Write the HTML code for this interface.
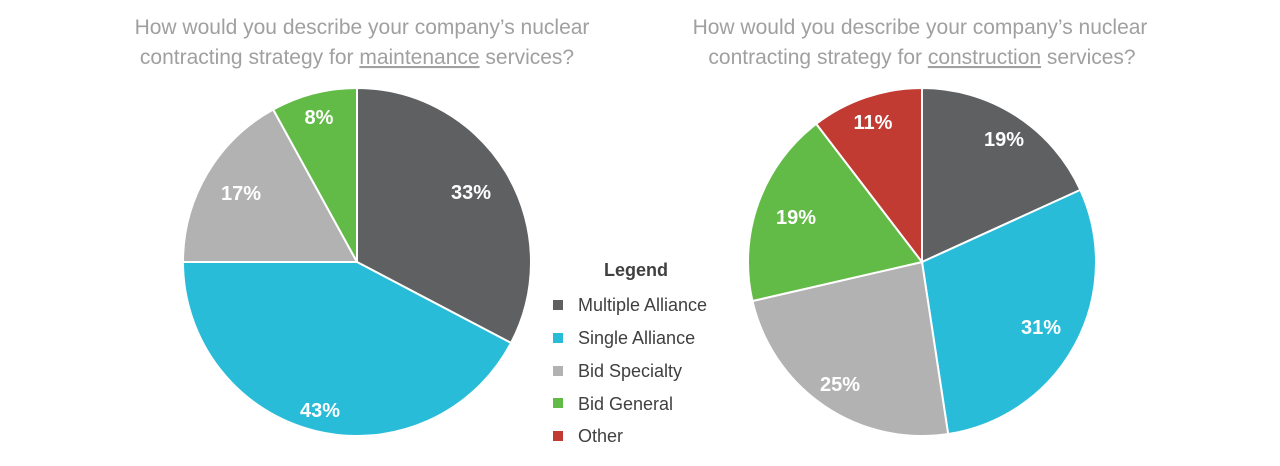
<!DOCTYPE html>
<html><head><meta charset="utf-8"><style>
body{margin:0;background:#fff;width:1280px;height:461px;overflow:hidden;font-family:"Liberation Sans",Arial,sans-serif}
</style></head><body>
<svg id="s" width="1280" height="461" xmlns="http://www.w3.org/2000/svg" font-family="Liberation Sans, Arial, sans-serif">
<g fill="#a0a0a0" font-size="21" text-anchor="middle">
<text x="362" y="34">How would you describe your company’s nuclear</text>
<text x="357" y="64">contracting strategy for <tspan text-decoration="underline">maintenance</tspan> services?</text>
<text x="920" y="34">How would you describe your company’s nuclear</text>
<text x="922" y="64">contracting strategy for <tspan text-decoration="underline">construction</tspan> services?</text>
</g>
<g id="p1"></g><g id="p2"></g>
<g fill="#fff" font-weight="bold" font-size="20" text-anchor="middle">
<text x="471" y="199">33%</text><text x="320" y="417">43%</text><text x="241" y="200">17%</text><text x="319" y="124">8%</text>
<text x="1004" y="146">19%</text><text x="1041" y="334">31%</text><text x="840" y="391">25%</text><text x="796" y="224">19%</text><text x="873" y="129">11%</text>
</g>
<text x="604" y="276" font-size="18" font-weight="bold" fill="#404040">Legend</text>
<g font-size="18" fill="#404040">
<rect x="553" y="300" width="10" height="10" fill="#5f6062"/><text x="578" y="311">Multiple Alliance</text>
<rect x="553" y="333" width="10" height="10" fill="#29bcd8"/><text x="578" y="344">Single Alliance</text>
<rect x="553" y="366" width="10" height="10" fill="#b2b2b2"/><text x="578" y="377">Bid Specialty</text>
<rect x="553" y="398" width="10" height="10" fill="#62bb46"/><text x="578" y="410">Bid General</text>
<rect x="553" y="431" width="10" height="10" fill="#c23b33"/><text x="578" y="442">Other</text>
</g>
</svg>
<script>
function pie(id,cx,cy,r,sl){var g=document.getElementById(id),a=0,h='';
sl.forEach(function(s){var b=a+s[0]*2*Math.PI;
var x1=cx+r*Math.sin(a),y1=cy-r*Math.cos(a),x2=cx+r*Math.sin(b),y2=cy-r*Math.cos(b);
h+='<path d="M'+cx+','+cy+'L'+x1+','+y1+'A'+r+','+r+' 0 '+(s[0]>0.5?1:0)+' 1 '+x2+','+y2+'Z" fill="'+s[1]+'" stroke="#fff" stroke-width="2"/>';a=b;});
g.innerHTML=h;}
pie('p1',357,262,174,[[0.327,'#5f6062'],[0.423,'#29bcd8'],[0.17,'#b2b2b2'],[0.08,'#62bb46']]);
pie('p2',922,262,174,[[0.182,'#5f6062'],[0.294,'#29bcd8'],[0.238,'#b2b2b2'],[0.182,'#62bb46'],[0.104,'#c23b33']]);
</script>
</body></html>
